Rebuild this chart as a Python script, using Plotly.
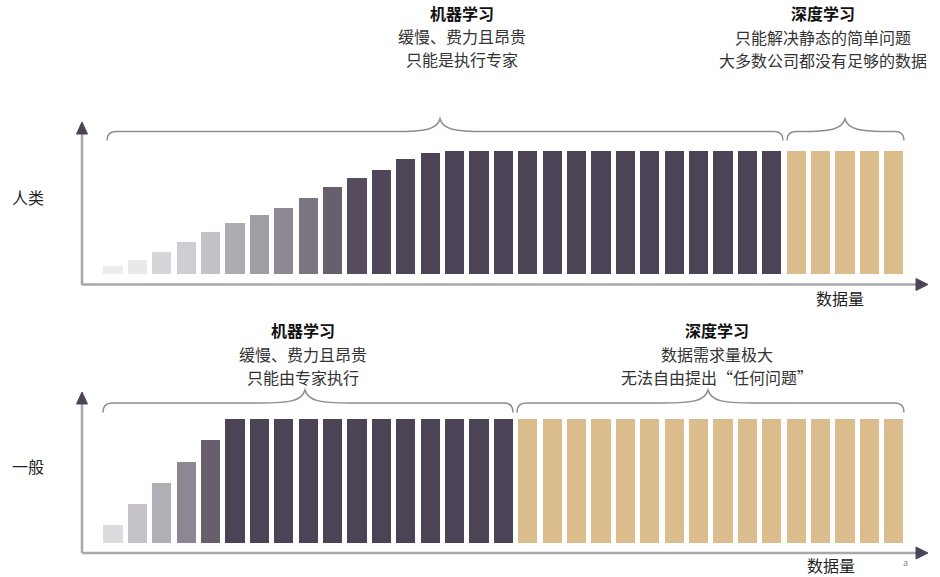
import plotly.graph_objects as go

W, H = 940, 577

# ---------------- data ----------------
bar_index = list(range(1, 34))
human_heights = [6.5, 11.1, 18.1, 25.8, 33.9, 41.5, 47.7, 53.9, 62.0, 70.7, 78.0, 84.8, 93.3, 98.6,
                 100, 100, 100, 100, 100, 100, 100, 100, 100, 100, 100, 100, 100, 100,
                 100, 100, 100, 100, 100]
general_heights = [14.6, 31.1, 48.5, 65.6, 83.2,
                   100, 100, 100, 100, 100, 100, 100, 100, 100, 100, 100, 100,
                   100, 100, 100, 100, 100, 100, 100, 100, 100, 100, 100, 100, 100, 100, 100, 100]
human_ml_count = 28      # bars covered by "机器学习" in top panel
general_ml_count = 17    # bars covered by "机器学习" in bottom panel

row_labels = ["人类", "一般"]
x_label = "数据量"
top_ml_lines = ["机器学习", "缓慢、费力且昂贵", "只能是执行专家"]
top_dl_lines = ["深度学习", "只能解决静态的简单问题", "大多数公司都没有足够的数据"]
bot_ml_lines = ["机器学习", "缓慢、费力且昂贵", "只能由专家执行"]
bot_dl_lines = ["深度学习", "数据需求量极大", "无法自由提出“任何问题”"]

# ---------------- styles ----------------
DARK = "#4d4357"
BEIGE = "#dbbc8d"
AXIS = "#aaa6ae"
BRACE = "#8f8a95"
FONT = "Noto Sans CJK SC"

top_ramp = ["#ececec", "#e9e9e9", "#d7d5d9", "#cfcdd1", "#c3c1c6", "#aeabb2", "#a19da5",
            "#8e8893", "#7b7481", "#685e6c", "#574c5d", "#514659", "#4f4558", "#4d4357"]
bot_ramp = ["#dddbe0", "#c5c3c8", "#b1afb5", "#8d8693", "#685e6c"]


def colors_for(n_ml, ramp, n):
    cols = []
    for i in range(n):
        if i < len(ramp):
            cols.append(ramp[i])
        elif i < n_ml:
            cols.append(DARK)
        else:
            cols.append(BEIGE)
    return cols


top_colors = colors_for(human_ml_count, top_ramp, len(bar_index))
bot_colors = colors_for(general_ml_count, bot_ramp, len(bar_index))

fig = go.Figure()
fig.add_trace(go.Bar(x=bar_index, y=human_heights, marker=dict(color=top_colors, line=dict(width=0)),
                     width=0.79, xaxis="x", yaxis="y", hoverinfo="skip", showlegend=False))
fig.add_trace(go.Bar(x=bar_index, y=general_heights, marker=dict(color=bot_colors, line=dict(width=0)),
                     width=0.79, xaxis="x2", yaxis="y2", hoverinfo="skip", showlegend=False))

# pixel geometry
PX_PER_BAR = 24.4
FIRST_CENTER = 113.0
x_lo = 1 - FIRST_CENTER / PX_PER_BAR
x_hi = 1 + (W - FIRST_CENTER) / PX_PER_BAR


def yaxis_cfg(base_px, full_px, top_px, bot_px):
    k = (base_px - full_px) / 100.0
    return dict(domain=[1 - bot_px / H, 1 - top_px / H],
                range=[(base_px - bot_px) / k, (base_px - top_px) / k],
                visible=False, fixedrange=True)


xcfg = dict(range=[x_lo, x_hi], domain=[0, 1], visible=False, fixedrange=True)
fig.update_layout(
    width=W, height=H, margin=dict(l=0, r=0, t=0, b=0),
    paper_bgcolor="white", plot_bgcolor="rgba(0,0,0,0)",
    xaxis=dict(**xcfg, anchor="y"),
    xaxis2=dict(**xcfg, anchor="y2"),
    yaxis=yaxis_cfg(274.0, 151.0, 100, 300),
    yaxis2=yaxis_cfg(542.7, 419.3, 370, 570),
    bargap=0,
    font=dict(family=FONT, color="#222222"),
)


def P(x, y):
    return f"{x / W:.5f},{1 - y / H:.5f}"


shapes = []


def line(x0, y0, x1, y1, color=AXIS, width=2.5):
    shapes.append(dict(type="line", xref="paper", yref="paper", x0=x0 / W, y0=1 - y0 / H,
                       x1=x1 / W, y1=1 - y1 / H, line=dict(color=color, width=width)))


def tri(pts, color=DARK):
    d = "M " + " L ".join(P(x, y) for x, y in pts) + " Z"
    shapes.append(dict(type="path", xref="paper", yref="paper", path=d,
                       fillcolor=color, line=dict(color=color, width=1)))


def brace(x0, x1, xp, y_line, y_end, y_peak):
    r = 9
    d = (f"M {P(x0, y_end)} Q {P(x0, y_line)} {P(x0 + r, y_line)} "
         f"L {P(xp - 45, y_line)} C {P(xp - 15, y_line)} {P(xp - 3, y_line - 2)} {P(xp, y_peak)} "
         f"C {P(xp + 3, y_line - 2)} {P(xp + 15, y_line)} {P(xp + 45, y_line)} "
         f"L {P(x1 - r, y_line)} Q {P(x1, y_line)} {P(x1, y_end)}")
    shapes.append(dict(type="path", xref="paper", yref="paper", path=d,
                       line=dict(color=BRACE, width=1.5)))


# top panel axes
line(82, 285, 82, 132)
tri([(82, 122), (76.5, 134), (87.5, 134)])
line(82, 284.5, 918, 284.5)
tri([(928, 284.5), (916, 278.5), (916, 290.5)])
# bottom panel axes
line(82, 553, 82, 402)
tri([(82, 392), (76.5, 404), (87.5, 404)])
line(82, 553, 918, 553)
tri([(928, 553), (916, 547), (916, 559)])

# braces
brace(107, 783, 440, 131.5, 140.5, 119)
brace(787, 904, 845, 131.5, 140.5, 119)
brace(103, 513, 305, 403, 412.5, 390)
brace(517, 904, 708, 403, 412.5, 390)

fig.update_layout(shapes=shapes)

ann = []


def text(s, x, y, size=16, color="#222222"):
    ann.append(dict(text=s, x=x / W, y=1 - y / H, xref="paper", yref="paper",
                    showarrow=False, xanchor="center", yanchor="middle",
                    font=dict(family=FONT, size=size, color=color)))


def block(lines, cx, ys):
    text(f"<b>{lines[0]}</b>", cx, ys[0], color="#111111")
    for s, y in zip(lines[1:], ys[1:]):
        text(s, cx, y, color="#333333")


block(top_ml_lines, 462, [13, 36, 59])
block(top_dl_lines, 823, [13, 37, 60])
block(bot_ml_lines, 303, [330, 354, 377])
block(bot_dl_lines, 717, [330, 354, 377])

text(row_labels[0], 28, 197)
text(row_labels[1], 28, 466)
text(x_label, 840, 298)
text(x_label, 831, 565)
text("a", 905, 562, size=9, color="#888888")

fig.update_layout(annotations=ann)
fig.write_html("out.html")
